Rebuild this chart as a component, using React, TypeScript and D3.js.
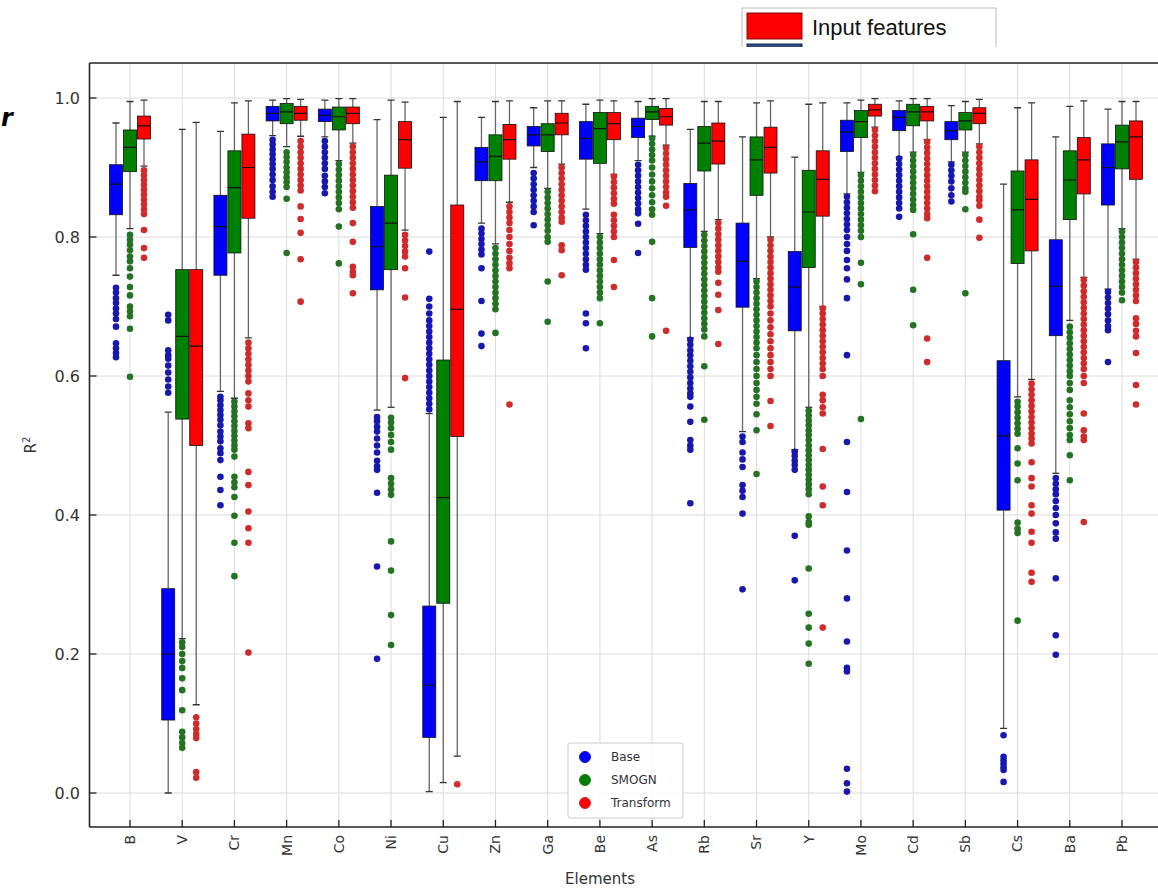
import React from "react";
import * as d3 from "d3";

const elements = ["B","V","Cr","Mn","Co","Ni","Cu","Zn","Ga","Be","As","Rb","Sr","Y","Mo","Cd","Sb","Cs","Ba","Pb"];
const methods = ["Base","SMOGN","Transform"];
const yTicks = [0, 0.2, 0.4, 0.6, 0.8, 1.0];

// [whiskerLow, Q1, median, Q3, whiskerHigh]
const baseStats = [
  [0.745,0.832,0.876,0.904,0.964],[0.0,0.105,0.20,0.294,0.548],[0.578,0.745,0.815,0.860,0.952],
  [0.946,0.967,0.978,0.988,0.997],[0.944,0.966,0.975,0.984,0.997],[0.551,0.724,0.786,0.844,0.969],
  [0.002,0.080,0.155,0.269,0.546],[0.82,0.881,0.908,0.929,0.972],[0.90,0.931,0.947,0.959,0.986],
  [0.84,0.912,0.942,0.966,0.991],[0.91,0.943,0.959,0.971,0.995],[0.655,0.785,0.839,0.877,0.955],
  [0.520,0.699,0.765,0.820,0.944],[0.494,0.665,0.728,0.779,0.915],[0.862,0.923,0.951,0.968,0.993],
  [0.915,0.953,0.972,0.982,0.996],[0.908,0.940,0.953,0.966,0.989],[0.093,0.407,0.514,0.622,0.876],
  [0.46,0.658,0.729,0.796,0.944],[0.725,0.846,0.900,0.934,0.984]
];
const smognStats = [
  [0.812,0.894,0.929,0.954,0.995],[0.222,0.538,0.657,0.753,0.955],[0.568,0.777,0.871,0.924,0.993],
  [0.93,0.963,0.980,0.992,0.999],[0.91,0.954,0.973,0.987,0.999],[0.555,0.753,0.820,0.889,0.997],
  [0.015,0.273,0.425,0.623,0.972],[0.79,0.881,0.916,0.947,0.995],[0.87,0.923,0.947,0.963,0.996],
  [0.805,0.906,0.956,0.979,0.997],[0.945,0.969,0.980,0.988,0.999],[0.808,0.895,0.935,0.959,0.995],
  [0.74,0.860,0.911,0.944,0.993],[0.555,0.756,0.836,0.896,0.991],[0.893,0.943,0.966,0.982,0.997],
  [0.922,0.960,0.980,0.991,0.999],[0.922,0.954,0.967,0.979,0.995],[0.57,0.762,0.839,0.895,0.986],
  [0.680,0.825,0.882,0.924,0.988],[0.812,0.898,0.937,0.961,0.995]
];
const transformStats = [
  [0.902,0.941,0.960,0.974,0.997],[0.127,0.50,0.643,0.753,0.965],[0.655,0.827,0.900,0.948,0.996],
  [0.945,0.968,0.978,0.988,0.998],[0.935,0.963,0.978,0.987,0.999],[0.81,0.899,0.940,0.966,0.994],
  [0.053,0.513,0.696,0.846,0.995],[0.85,0.912,0.940,0.962,0.996],[0.905,0.947,0.964,0.978,0.996],
  [0.89,0.940,0.963,0.979,0.996],[0.932,0.961,0.973,0.985,0.999],[0.825,0.905,0.938,0.964,0.995],
  [0.80,0.892,0.929,0.958,0.996],[0.70,0.830,0.883,0.924,0.993],[0.958,0.974,0.983,0.991,0.999],
  [0.94,0.967,0.980,0.988,0.999],[0.934,0.963,0.978,0.986,0.998],[0.595,0.780,0.854,0.911,0.993],
  [0.742,0.862,0.911,0.943,0.996],[0.768,0.883,0.944,0.967,0.995]
];

const baseOutliers = [
  [0.727,0.72,0.712,0.705,0.697,0.69,0.682,0.671,0.647,0.64,0.633,0.627],
  [0.688,0.68,0.637,0.63,0.625,0.615,0.605,0.595,0.585,0.576],
  [0.570,0.565,0.558,0.551,0.544,0.537,0.529,0.520,0.513,0.506,0.496,0.489,0.479,0.455,0.436,0.414],
  [0.94,0.933,0.926,0.919,0.912,0.905,0.898,0.89,0.882,0.873,0.865,0.858],
  [0.938,0.93,0.922,0.914,0.906,0.898,0.888,0.88,0.872,0.863],
  [0.541,0.535,0.527,0.52,0.51,0.50,0.49,0.478,0.47,0.465,0.432,0.326,0.193],
  [0.779,0.711,0.70,0.69,0.68,0.672,0.664,0.656,0.648,0.64,0.632,0.624,0.616,0.608,0.60,0.592,0.584,0.576,0.568,0.56,0.552],
  [0.812,0.805,0.797,0.79,0.782,0.775,0.755,0.708,0.661,0.643],
  [0.892,0.884,0.876,0.868,0.86,0.852,0.844,0.836,0.817],
  [0.832,0.824,0.816,0.808,0.80,0.792,0.784,0.776,0.768,0.76,0.753,0.69,0.676,0.64],
  [0.904,0.896,0.888,0.88,0.872,0.864,0.856,0.848,0.84,0.834,0.819,0.777],
  [0.652,0.645,0.637,0.63,0.622,0.614,0.606,0.598,0.59,0.582,0.575,0.57,0.556,0.534,0.508,0.50,0.494,0.417],
  [0.513,0.505,0.49,0.48,0.469,0.443,0.435,0.426,0.402,0.293],
  [0.491,0.485,0.478,0.472,0.465,0.37,0.306],
  [0.858,0.85,0.842,0.834,0.826,0.818,0.81,0.80,0.79,0.78,0.767,0.755,0.739,0.712,0.63,0.505,0.433,0.349,0.28,0.218,0.18,0.175,0.035,0.014,0.002],
  [0.913,0.905,0.897,0.889,0.881,0.873,0.865,0.857,0.849,0.841,0.829],
  [0.904,0.896,0.888,0.88,0.87,0.86,0.851],
  [0.083,0.052,0.047,0.042,0.037,0.033,0.016],
  [0.453,0.445,0.437,0.43,0.42,0.41,0.40,0.388,0.375,0.366,0.309,0.227,0.199],
  [0.721,0.713,0.705,0.697,0.689,0.68,0.672,0.666,0.62]
];
const smognOutliers = [
  [0.803,0.796,0.789,0.781,0.772,0.765,0.755,0.743,0.728,0.716,0.700,0.693,0.686,0.668,0.599],
  [0.217,0.21,0.20,0.19,0.18,0.165,0.148,0.119,0.088,0.08,0.072,0.065],
  [0.563,0.556,0.549,0.542,0.535,0.528,0.521,0.514,0.507,0.5,0.494,0.484,0.455,0.447,0.44,0.426,0.399,0.36,0.312],
  [0.922,0.915,0.908,0.90,0.893,0.886,0.879,0.872,0.855,0.777],
  [0.905,0.897,0.889,0.881,0.873,0.865,0.857,0.849,0.84,0.815,0.762],
  [0.54,0.533,0.525,0.515,0.505,0.494,0.453,0.445,0.437,0.429,0.362,0.32,0.256,0.213],
  [],
  [0.784,0.776,0.768,0.76,0.752,0.744,0.736,0.728,0.72,0.712,0.704,0.696,0.662],
  [0.865,0.857,0.849,0.841,0.833,0.825,0.817,0.809,0.80,0.793,0.736,0.678],
  [0.80,0.792,0.784,0.776,0.768,0.76,0.752,0.744,0.736,0.728,0.72,0.712,0.676],
  [0.942,0.934,0.926,0.918,0.91,0.90,0.89,0.88,0.87,0.86,0.85,0.84,0.832,0.793,0.712,0.657],
  [0.803,0.795,0.787,0.779,0.771,0.763,0.755,0.747,0.739,0.731,0.723,0.715,0.707,0.699,0.691,0.683,0.675,0.667,0.657,0.614,0.537],
  [0.736,0.728,0.72,0.712,0.704,0.696,0.688,0.68,0.672,0.664,0.656,0.648,0.64,0.63,0.62,0.61,0.60,0.59,0.58,0.57,0.56,0.545,0.522,0.459],
  [0.55,0.543,0.536,0.529,0.522,0.515,0.508,0.50,0.493,0.486,0.479,0.472,0.465,0.458,0.451,0.444,0.437,0.43,0.398,0.39,0.386,0.323,0.258,0.238,0.215,0.186],
  [0.889,0.881,0.873,0.865,0.857,0.849,0.841,0.833,0.825,0.817,0.809,0.80,0.763,0.732,0.538],
  [0.918,0.91,0.902,0.894,0.886,0.878,0.87,0.862,0.854,0.846,0.839,0.804,0.724,0.673],
  [0.918,0.91,0.902,0.894,0.886,0.878,0.87,0.865,0.84,0.719],
  [0.563,0.556,0.548,0.54,0.532,0.524,0.517,0.496,0.474,0.45,0.389,0.38,0.374,0.248],
  [0.671,0.663,0.655,0.647,0.639,0.631,0.623,0.615,0.607,0.60,0.59,0.58,0.565,0.555,0.545,0.535,0.525,0.515,0.508,0.486,0.45],
  [0.808,0.80,0.792,0.784,0.776,0.768,0.76,0.752,0.744,0.736,0.728,0.72,0.709]
];
const transformOutliers = [
  [0.896,0.889,0.882,0.875,0.868,0.861,0.854,0.847,0.840,0.833,0.81,0.784,0.77],
  [0.109,0.10,0.092,0.085,0.079,0.03,0.022],
  [0.648,0.64,0.632,0.624,0.616,0.608,0.60,0.592,0.575,0.565,0.556,0.532,0.525,0.462,0.443,0.405,0.381,0.36,0.202],
  [0.938,0.93,0.922,0.914,0.906,0.898,0.89,0.882,0.874,0.867,0.844,0.826,0.806,0.768,0.707],
  [0.93,0.922,0.914,0.906,0.898,0.89,0.882,0.874,0.866,0.858,0.85,0.842,0.82,0.793,0.757,0.75,0.745,0.719],
  [0.803,0.795,0.787,0.779,0.772,0.755,0.713,0.597],
  [0.0125],
  [0.844,0.836,0.828,0.82,0.81,0.80,0.79,0.78,0.77,0.762,0.755,0.559],
  [0.90,0.892,0.884,0.876,0.868,0.86,0.852,0.844,0.836,0.828,0.822,0.788,0.781,0.745],
  [0.887,0.879,0.871,0.863,0.855,0.848,0.832,0.824,0.816,0.808,0.80,0.767,0.728],
  [0.928,0.92,0.912,0.904,0.896,0.888,0.88,0.872,0.864,0.858,0.845,0.665],
  [0.82,0.812,0.804,0.796,0.788,0.78,0.772,0.764,0.756,0.75,0.734,0.717,0.695,0.646],
  [0.796,0.788,0.78,0.772,0.764,0.756,0.748,0.74,0.732,0.724,0.716,0.708,0.70,0.69,0.68,0.67,0.66,0.65,0.64,0.63,0.62,0.61,0.60,0.564,0.528],
  [0.697,0.69,0.682,0.674,0.666,0.658,0.65,0.642,0.634,0.626,0.618,0.61,0.60,0.573,0.565,0.555,0.546,0.495,0.441,0.414,0.238],
  [0.954,0.946,0.938,0.93,0.922,0.914,0.906,0.898,0.89,0.882,0.874,0.866],
  [0.937,0.929,0.921,0.913,0.905,0.897,0.889,0.881,0.873,0.865,0.857,0.849,0.841,0.833,0.827,0.77,0.654,0.62],
  [0.93,0.922,0.914,0.906,0.898,0.89,0.882,0.874,0.866,0.858,0.853,0.845,0.825,0.799],
  [0.589,0.581,0.573,0.565,0.557,0.549,0.541,0.533,0.525,0.517,0.51,0.503,0.476,0.453,0.441,0.414,0.402,0.376,0.36,0.317,0.304],
  [0.738,0.73,0.722,0.714,0.706,0.698,0.69,0.682,0.674,0.666,0.658,0.65,0.642,0.634,0.626,0.618,0.61,0.60,0.59,0.546,0.522,0.513,0.508,0.39],
  [0.764,0.756,0.748,0.74,0.732,0.724,0.716,0.708,0.683,0.675,0.665,0.657,0.633,0.587,0.559]
];

const boxColors = ["#0000ff", "#008000", "#ff0000"];
const dotColors = ["#1818b0", "#237323", "#cf2b2b"];

export default function App() {
  const W = 1158, H = 888;
  const left = 89.5, right = 1163, top = 63, bottom = 827;
  const y = d3.scaleLinear().domain([0, 1]).range([793, 98]);
  const x = d3.scalePoint<string>().domain(elements).range([130, 1122]);
  const off = d3.scaleBand<string>().domain(methods).range([-21, 21]).padding(0);
  const bw = off.bandwidth();
  const allStats = [baseStats, smognStats, transformStats];
  const allOut = [baseOutliers, smognOutliers, transformOutliers];
  const font = "'DejaVu Sans', sans-serif";

  return (
    <svg width={W} height={H} style={{ position: "absolute", left: 0, top: 0, background: "#fff" }} fontFamily={font}>
      <defs>
        <clipPath id="legclip"><rect x={0} y={0} width={W} height={47} /></clipPath>
        <clipPath id="plotclip"><rect x={left} y={top} width={right - left} height={bottom - top} /></clipPath>
      </defs>
      <rect x={0} y={0} width={W} height={H} fill="#fff" />
      {/* top partial legend */}
      <g clipPath="url(#legclip)">
        <rect x={742} y={8} width={254} height={70} fill="#fff" stroke="#bbb" strokeWidth={1} />
        <rect x={747} y={13} width={55} height={26} fill="#ff0000" stroke="#7a1010" strokeWidth={1} />
        <text x={812} y={35} fontSize={22} fontFamily="'Liberation Sans', Arial, sans-serif" fill="#111">Input features</text>
        <rect x={747} y={44} width={55} height={26} fill="#2b4a80" stroke="#1a2a50" strokeWidth={1} />
        <text x={812} y={66} fontSize={22} fontFamily="'Liberation Sans', Arial, sans-serif" fill="#777">Transformed features</text>
      </g>
      <text x={1} y={126} fontSize={24} fontStyle="italic" fontWeight="bold" fill="#000">r</text>
      {/* grid */}
      <g stroke="#dcdcdc" strokeWidth={1}>
        {yTicks.map((t) => (
          <line key={"gy" + t} x1={left} x2={right} y1={y(t)} y2={y(t)} />
        ))}
        {elements.map((e) => (
          <line key={"gx" + e} x1={x(e)} x2={x(e)} y1={top} y2={bottom} />
        ))}
      </g>
      {/* boxes */}
      <g clipPath="url(#plotclip)">
        {elements.map((e, i) =>
          methods.map((m, k) => {
            const s = allStats[k][i];
            const cx = (x(e) as number) + (off(m) as number) + bw / 2;
            const x0 = (x(e) as number) + (off(m) as number);
            return (
              <g key={e + m}>
                <line x1={cx} x2={cx} y1={y(s[4])} y2={y(s[3])} stroke="#666" strokeWidth={1.3} />
                <line x1={cx} x2={cx} y1={y(s[1])} y2={y(s[0])} stroke="#666" strokeWidth={1.3} />
                <line x1={cx - 3.5} x2={cx + 3.5} y1={y(s[4])} y2={y(s[4])} stroke="#333" strokeWidth={1.3} />
                <line x1={cx - 3.5} x2={cx + 3.5} y1={y(s[0])} y2={y(s[0])} stroke="#333" strokeWidth={1.3} />
                <rect x={x0 + 0.5} y={y(s[3])} width={bw - 1} height={y(s[1]) - y(s[3])} fill={boxColors[k]} stroke="#111" strokeWidth={0.8} />
                <line x1={x0 + 0.5} x2={x0 + bw - 0.5} y1={y(s[2])} y2={y(s[2])} stroke="#111" strokeWidth={1.2} />
              </g>
            );
          })
        )}
        {elements.map((e, i) =>
          methods.map((m, k) => {
            const cx = (x(e) as number) + (off(m) as number) + bw / 2;
            return allOut[k][i].map((v, j) => (
              <circle key={e + m + j} cx={cx} cy={y(v)} r={3.3} fill={dotColors[k]} />
            ));
          })
        )}
      </g>
      {/* axes frame */}
      <g fill="none" stroke="#222" strokeWidth={1.6}>
        <line x1={left} x2={left} y1={top} y2={bottom} />
        <line x1={left} x2={right} y1={bottom} y2={bottom} />
        <line x1={left} x2={right} y1={top} y2={top} />
      </g>
      {/* y ticks */}
      {yTicks.map((t) => (
        <g key={"yt" + t}>
          <line x1={left} x2={left + 7} y1={y(t)} y2={y(t)} stroke="#222" strokeWidth={1.3} />
          <text x={80} y={y(t)} dy="0.35em" textAnchor="end" fontSize={16} fill="#333">{t.toFixed(1)}</text>
        </g>
      ))}
      {/* x ticks */}
      {elements.map((e) => (
        <g key={"xt" + e}>
          <line x1={x(e)} x2={x(e)} y1={bottom} y2={bottom - 7} stroke="#222" strokeWidth={1.3} />
          <text transform={`translate(${x(e)},${bottom + 8}) rotate(-90)`} textAnchor="end" dy="0.35em" fontSize={14} fill="#333">{e}</text>
        </g>
      ))}
      <text x={600} y={884} textAnchor="middle" fontSize={15} fill="#333">Elements</text>
      <text transform={`translate(36,445) rotate(-90)`} textAnchor="middle" fontSize={15} fill="#333">
        R<tspan dy={-6} fontSize={10}>2</tspan>
      </text>
      {/* bottom legend */}
      <g>
        <rect x={568} y={743} width={115} height={75} fill="#fff" fillOpacity={0.85} stroke="#ccc" strokeWidth={1} rx={2} />
        {methods.map((m, k) => (
          <g key={"lg" + m}>
            <circle cx={585} cy={757 + k * 23} r={5.5} fill={boxColors[k]} stroke={dotColors[k]} strokeWidth={1} />
            <text x={611} y={757 + k * 23} dy="0.35em" fontSize={12} fill="#333">{m}</text>
          </g>
        ))}
      </g>
    </svg>
  );
}
